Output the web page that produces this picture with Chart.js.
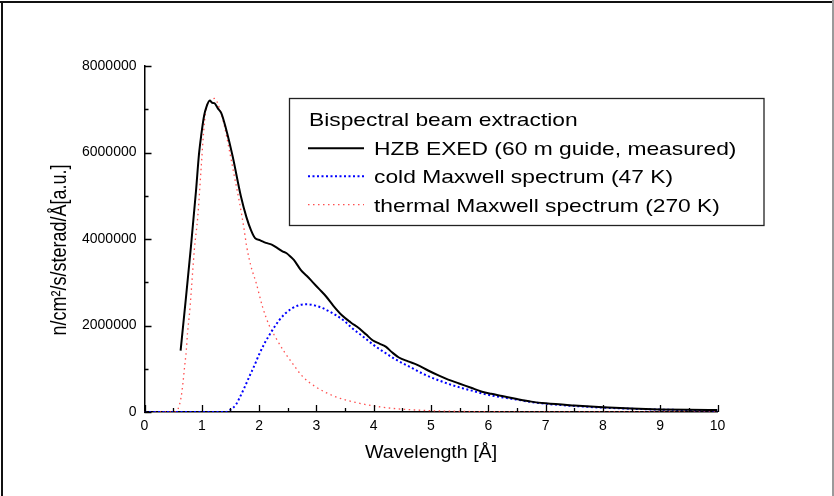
<!DOCTYPE html>
<html>
<head>
<meta charset="utf-8">
<script src="https://cdn.jsdelivr.net/npm/chart.js@4.4.1/dist/chart.umd.min.js"></script>
<style>
  html, body { margin: 0; padding: 0; background: #fff; }
  canvas { display: block; }
</style>
</head>
<body>
<canvas id="chart" width="834" height="496"></canvas>
<script>
// Wavelength (Å) and flux values for each spectrum
const measuredX = [0.63, 0.72, 0.81, 0.90, 0.95, 0.99, 1.04, 1.08, 1.14, 1.18, 1.22, 1.28, 1.34, 1.42, 1.54, 1.68, 1.78, 1.86, 1.93, 2.02, 2.12, 2.22, 2.32, 2.40, 2.48, 2.55, 2.61, 2.73, 2.83, 2.93, 3.05, 3.17, 3.30, 3.45, 3.60, 3.75, 3.87, 3.98, 4.10, 4.21, 4.32, 4.44, 4.60, 4.76, 4.95, 5.14, 5.30, 5.49, 5.70, 5.89, 6.05, 6.24, 6.50, 6.75, 7.00, 7.50, 8.00, 8.50, 9.00, 9.50, 10.00];
const measuredY = [1420000, 2600000, 3820000, 5130000, 5950000, 6400000, 6850000, 7050000, 7200000, 7150000, 7140000, 7020000, 6910000, 6560000, 5900000, 5000000, 4500000, 4200000, 4020000, 3970000, 3910000, 3870000, 3790000, 3720000, 3670000, 3590000, 3510000, 3280000, 3150000, 3010000, 2840000, 2670000, 2450000, 2230000, 2070000, 1930000, 1790000, 1660000, 1580000, 1510000, 1380000, 1260000, 1170000, 1090000, 960000, 840000, 750000, 660000, 560000, 470000, 420000, 370000, 300000, 240000, 200000, 150000, 110000, 80000, 60000, 50000, 45000];

const coldX = [0, 0.5, 1.0, 1.3, 1.42, 1.50, 1.60, 1.66, 1.75, 1.83, 1.92, 2.00, 2.10, 2.18, 2.27, 2.35, 2.45, 2.58, 2.70, 2.85, 2.98, 3.11, 3.22, 3.34, 3.50, 3.63, 3.78, 3.92, 4.05, 4.21, 4.35, 4.50, 4.68, 4.85, 5.00, 5.20, 5.35, 5.55, 5.75, 5.95, 6.20, 6.48, 6.75, 7.00, 7.50, 8.00, 8.50, 9.00, 9.50, 10.00];
const coldY = [0, 0, 0, 0, 0, 50000, 180000, 330000, 580000, 820000, 1080000, 1330000, 1600000, 1780000, 1970000, 2120000, 2270000, 2400000, 2470000, 2490000, 2460000, 2400000, 2330000, 2240000, 2090000, 1930000, 1780000, 1630000, 1500000, 1360000, 1240000, 1130000, 1010000, 890000, 800000, 700000, 630000, 550000, 480000, 410000, 350000, 290000, 230000, 190000, 140000, 100000, 75000, 55000, 45000, 35000];

const thermalX = [0, 0.50, 0.55, 0.58, 0.64, 0.67, 0.70, 0.73, 0.75, 0.78, 0.80, 0.87, 0.93, 0.99, 1.03, 1.07, 1.16, 1.22, 1.31, 1.39, 1.48, 1.57, 1.66, 1.74, 1.78, 1.86, 1.95, 2.06, 2.18, 2.29, 2.44, 2.58, 2.76, 2.99, 3.34, 3.69, 4.15, 4.73, 5.43, 6.50, 8.00, 10.00];
const thermalY = [0, 0, 10000, 50000, 350000, 660000, 1050000, 1430000, 1820000, 2200000, 2510000, 3750000, 4520000, 5670000, 6440000, 6980000, 7210000, 7250000, 7020000, 6640000, 6060000, 5440000, 4830000, 4210000, 3850000, 3360000, 2980000, 2430000, 1990000, 1720000, 1390000, 1130000, 820000, 580000, 350000, 220000, 110000, 46000, 16000, 4000, 1000, 0];

const seriesLabels = ['HZB EXED (60 m guide, measured)', 'cold Maxwell spectrum (47 K)', 'thermal Maxwell spectrum (270 K)'];
const legendTitle = 'Bispectral beam extraction';
const xTitle = 'Wavelength [Å]';
const yTitle = 'n/cm²/s/sterad/Å[a.u.]';

const FONT = "'Liberation Sans', Arial, Helvetica, sans-serif";

function pairs(xs, ys) { return xs.map((x, i) => ({ x: x, y: ys[i] })); }

// Horizontally stretched text helper
function stretchedText(ctx, text, x, y, size, sx, align) {
  ctx.save();
  ctx.font = size + 'px ' + FONT;
  ctx.fillStyle = '#000';
  ctx.textAlign = align || 'left';
  ctx.textBaseline = 'alphabetic';
  ctx.translate(x, y);
  ctx.scale(sx, 1);
  ctx.fillText(text, 0, 0);
  ctx.restore();
}

// Page frame, inward tick marks, axis titles and boxed legend
const decorations = {
  id: 'decorations',
  afterDraw(chart) {
    const ctx = chart.ctx;
    const xs = chart.scales.x, ys = chart.scales.y;
    const area = chart.chartArea;

    ctx.save();
    // frame
    ctx.fillStyle = '#111';
    ctx.fillRect(0, 1, 834, 2);
    ctx.fillRect(1, 1, 2, 495);
    ctx.fillStyle = '#9a9a9a';
    ctx.fillRect(832, 0, 2, 496);

    // ticks pointing into the plot
    ctx.strokeStyle = '#000';
    ctx.lineWidth = 1.3;
    ctx.beginPath();
    for (let v = 0; v <= 10.001; v += 0.5) {
      const px = Math.round(xs.getPixelForValue(v)) + 0.5;
      const len = Math.abs(v - Math.round(v)) < 1e-6 ? 7 : 4;
      ctx.moveTo(px, area.bottom);
      ctx.lineTo(px, area.bottom - len);
    }
    for (let v = 0; v <= 8000000; v += 1000000) {
      const py = Math.round(ys.getPixelForValue(v)) + 0.5;
      const len = (v % 2000000) === 0 ? 7 : 4;
      ctx.moveTo(area.left, py);
      ctx.lineTo(area.left + len, py);
    }
    ctx.stroke();
    ctx.restore();

    // axis titles
    stretchedText(ctx, xTitle, (area.left + area.right) / 2, 457.5, 17.5, 1.12, 'center');
    ctx.save();
    ctx.font = '18px ' + FONT;
    ctx.fillStyle = '#000';
    ctx.textAlign = 'center';
    ctx.textBaseline = 'alphabetic';
    ctx.translate(66, 250);
    ctx.scale(1.2, 1);
    ctx.rotate(-Math.PI / 2);
    ctx.fillText(yTitle, 0, 0);
    ctx.restore();

    // legend box
    ctx.save();
    ctx.strokeStyle = '#222';
    ctx.lineWidth = 1.3;
    ctx.strokeRect(289.5, 98.5, 474.5, 127);
    ctx.restore();
    stretchedText(ctx, legendTitle, 309, 126, 19, 1.2, 'left');

    const rows = [155.3, 183.3, 211.7];
    chart.data.datasets.forEach((ds, i) => {
      const yLine = rows[i] - 7;
      ctx.save();
      ctx.strokeStyle = ds.borderColor;
      ctx.lineWidth = ds.borderWidth;
      ctx.setLineDash(ds.borderDash || []);
      ctx.beginPath();
      ctx.moveTo(308, yLine);
      ctx.lineTo(364, yLine);
      ctx.stroke();
      ctx.restore();
      stretchedText(ctx, ds.label, 374, rows[i], 19, 1.2, 'left');
    });
  }
};

new Chart(document.getElementById('chart'), {
  type: 'line',
  data: {
    datasets: [
      {
        label: seriesLabels[0],
        data: pairs(measuredX, measuredY),
        borderColor: '#000000',
        borderWidth: 2,
        pointRadius: 0,
        cubicInterpolationMode: 'monotone'
      },
      {
        label: seriesLabels[1],
        data: pairs(coldX, coldY),
        borderColor: '#0000ff',
        borderWidth: 2,
        borderDash: [2, 2.5],
        pointRadius: 0,
        cubicInterpolationMode: 'monotone'
      },
      {
        label: seriesLabels[2],
        data: pairs(thermalX, thermalY),
        borderColor: 'rgba(255,60,60,0.9)',
        borderWidth: 1.3,
        borderDash: [1.5, 3.5],
        pointRadius: 0,
        cubicInterpolationMode: 'monotone'
      }
    ]
  },
  options: {
    responsive: false,
    animation: false,
    layout: { padding: { top: 66, right: 116.5, left: 0, bottom: 0 } },
    plugins: { legend: { display: false }, tooltip: { enabled: false } },
    scales: {
      x: {
        type: 'linear',
        min: 0,
        max: 10,
        grid: { display: false, drawTicks: false },
        border: { display: true, color: '#000', width: 1.5 },
        ticks: { stepSize: 1, padding: 6, color: '#000', font: { family: FONT, size: 14 } },
        afterFit(scale) { scale.height = 84; }
      },
      y: {
        type: 'linear',
        min: 0,
        max: 8000000,
        grid: { display: false, drawTicks: false },
        border: { display: true, color: '#000', width: 1.5 },
        ticks: {
          stepSize: 2000000,
          padding: 8,
          color: '#000',
          font: { family: FONT, size: 14 },
          callback: v => String(v)
        },
        afterFit(scale) { scale.width = 144.5; }
      }
    }
  },
  plugins: [decorations]
});
</script>
</body>
</html>
